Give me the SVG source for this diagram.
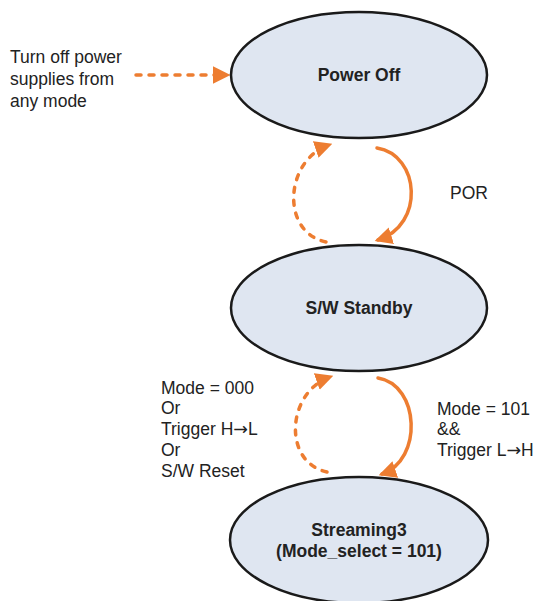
<svg xmlns="http://www.w3.org/2000/svg" width="539" height="601" viewBox="0 0 539 601">
<style>
.st{fill:#dfe6f1;stroke:#1a1a1a;stroke-width:2.5}
.nl{font-family:"Liberation Sans",Arial,sans-serif;font-size:17.5px;font-weight:bold;fill:#222;text-anchor:middle}
.lb{font-family:"Liberation Sans",Arial,sans-serif;font-size:17.5px;fill:#222}
.ar{font-family:"DejaVu Sans",sans-serif;font-size:17.5px}
.c{fill:none;stroke:#ed7d31;stroke-width:3.5;stroke-linecap:round}
.d{stroke-dasharray:5 8}
</style>
<defs>
<marker id="ah" viewBox="0 0 10 10" refX="8" refY="5" markerWidth="5" markerHeight="5" orient="auto" markerUnits="strokeWidth">
<path d="M0,0 L10,5 L0,10 z" fill="#ed7d31"/>
</marker>
</defs>
<rect width="539" height="601" fill="#fff"/>
<g id="connectors">
<path class="c d" d="M136,75 L227,75" marker-end="url(#ah)"/>
<path class="c" d="M377,148 C420,155 425,225 378,240" marker-end="url(#ah)"/>
<path class="c d" d="M326,242 C280,232 285,160 329,145" marker-end="url(#ah)"/>
<path class="c" d="M378,378 C420,385 423,460 382,474" marker-end="url(#ah)"/>
<path class="c d" d="M327,472 C282,462 287,392 330,377" marker-end="url(#ah)"/>
</g>
<g id="power-off">
<ellipse class="st" cx="359" cy="75" rx="128" ry="63"/>
<text class="nl" x="359" y="81">Power Off</text>
</g>
<g id="sw-standby">
<ellipse class="st" cx="359" cy="308" rx="128" ry="63"/>
<text class="nl" x="359" y="314">S/W Standby</text>
</g>
<g id="streaming3">
<ellipse class="st" cx="359" cy="540" rx="129" ry="63"/>
<text class="nl" x="359" y="536">Streaming3</text>
<text class="nl" x="359" y="557">(Mode_select = 101)</text>
</g>
<g id="labels">
<text class="lb" x="10" y="63">Turn off power</text>
<text class="lb" x="10" y="85">supplies from</text>
<text class="lb" x="10" y="107">any mode</text>
<text class="lb" x="450" y="199">POR</text>
<text class="lb" x="161" y="394">Mode = 000</text>
<text class="lb" x="161" y="414">Or</text>
<text class="lb" x="161" y="435">Trigger H<tspan class="ar">→</tspan>L</text>
<text class="lb" x="161" y="456">Or</text>
<text class="lb" x="161" y="477">S/W Reset</text>
<text class="lb" x="437" y="415">Mode = 101</text>
<text class="lb" x="437" y="435">&amp;&amp;</text>
<text class="lb" x="437" y="456">Trigger L<tspan class="ar">→</tspan>H</text>
</g>
</svg>
